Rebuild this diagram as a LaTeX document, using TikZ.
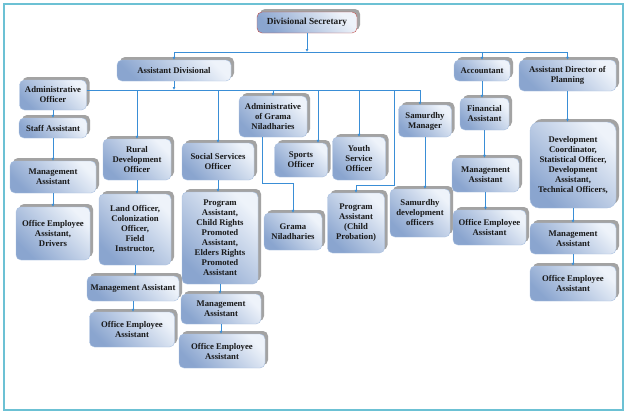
\documentclass[tikz,border=0pt]{standalone}
\usepackage{fontspec}
\setmainfont{Liberation Serif}
\usetikzlibrary{arrows.meta,shadows}
\definecolor{boxdark}{HTML}{8AA5CF}
\definecolor{boxlight}{HTML}{EEF3FA}
\definecolor{boxline}{HTML}{A9C0E0}
\definecolor{linkblue}{HTML}{3A8ED6}
\definecolor{framecyan}{HTML}{6CC1D4}
\definecolor{headred}{HTML}{C0504D}
\definecolor{shadowgrey}{HTML}{8C8C8C}
\tikzset{
unit/.style={draw=boxline, rounded corners=5pt, top color=boxdark, bottom color=boxlight, shading angle=135, align=center, inner sep=2pt, font=\fontsize{8.7}{10}\selectfont\bfseries, text=black!90, drop shadow={shadow xshift=3pt, shadow yshift=3pt, fill=shadowgrey, opacity=0.8}},
link/.style={draw=linkblue, line width=0.8pt},
arrow/.style={link, -{Latex[length=3pt,width=3pt]}}
}
\begin{document}
\begin{tikzpicture}[x=1pt, y=-1pt]
\useasboundingbox (0,0) rectangle (628,415);
\draw[framecyan, line width=1.5pt] (4,4) rectangle (623,410);
\node[unit, draw=headred, minimum width=100pt, minimum height=21pt, font=\fontsize{9.3}{11}\selectfont\bfseries] (ds) at (307,22.5) {Divisional Secretary};
\node[unit, minimum width=114pt, minimum height=21pt] (ad) at (174,70.5) {Assistant Divisional};
\node[unit, minimum width=56pt, minimum height=21pt] (acc) at (482,70.5) {Accountant};
\node[unit, minimum width=97pt, minimum height=31pt] (adp) at (567.5,75.5) {Assistant Director of\\Planning};
\node[unit, minimum width=67pt, minimum height=30pt] (ao) at (53,95) {Administrative\\Officer};
\node[unit, minimum width=68pt, minimum height=20pt] (sa) at (53,128) {Staff Assistant};
\node[unit, minimum width=86pt, minimum height=32pt] (ma1) at (53,177) {Management\\Assistant};
\node[unit, minimum width=74pt, minimum height=53pt] (oe1) at (53,233.5) {Office Employee\\Assistant,\\Drivers};
\node[unit, minimum width=68pt, minimum height=41pt] (rdo) at (137,159.5) {Rural\\Development\\Officer};
\node[unit, minimum width=72pt, minimum height=71pt] (lo) at (135,229.5) {Land Officer,\\Colonization\\Officer,\\Field\\Instructor,};
\node[unit, minimum width=92pt, minimum height=25pt] (ma2) at (133,288.5) {Management Assistant};
\node[unit, minimum width=85pt, minimum height=35pt] (oe2) at (132,329.5) {Office Employee\\Assistant};
\node[unit, minimum width=72pt, minimum height=37pt] (sso) at (218,161.5) {Social Services\\Officer};
\node[unit, minimum width=76pt, minimum height=92pt] (pa) at (220,238) {Program\\Assistant,\\Child Rights\\Promoted\\Assistant,\\Elders Rights\\Promoted\\Assistant};
\node[unit, minimum width=80pt, minimum height=30pt] (ma3) at (221,309) {Management\\Assistant};
\node[unit, minimum width=86pt, minimum height=34pt] (oe3) at (222,351) {Office Employee\\Assistant};
\node[unit, minimum width=68pt, minimum height=41pt] (agn) at (273,116.5) {Administrative\\of Grama\\Niladharies};
\node[unit, minimum width=53pt, minimum height=34pt] (so) at (301,160) {Sports\\Officer};
\node[unit, minimum width=58pt, minimum height=37pt] (gn) at (293,231.5) {Grama\\Niladharies};
\node[unit, minimum width=53pt, minimum height=43pt] (ys) at (359,158.5) {Youth\\Service\\Officer};
\node[unit, minimum width=57pt, minimum height=60pt] (pac) at (356,223) {Program\\Assistant\\(Child\\Probation)};
\node[unit, minimum width=53pt, minimum height=32pt] (sm) at (425,121) {Samurdhy\\Manager};
\node[unit, minimum width=60pt, minimum height=48pt] (sdo) at (420,213) {Samurdhy\\development\\officers};
\node[unit, minimum width=49pt, minimum height=32pt] (fa) at (484.5,114) {Financial\\Assistant};
\node[unit, minimum width=67pt, minimum height=34pt] (ma4) at (485.5,175) {Management\\Assistant};
\node[unit, minimum width=73pt, minimum height=35pt] (oe4) at (489.5,227.5) {Office Employee\\Assistant};
\node[unit, rounded corners=9pt, minimum width=86pt, minimum height=86pt] (dc) at (573,165) {Development\\Coordinator,\\Statistical Officer,\\Development\\Assistant,\\Technical Officers,};
\node[unit, minimum width=86pt, minimum height=31pt] (ma5) at (573,238.5) {Management\\Assistant};
\node[unit, minimum width=86pt, minimum height=35pt] (oe5) at (573,283.5) {Office Employee\\Assistant};
\coordinate (top) at (307,52);
\coordinate (mid) at (174,90);
\coordinate (pbend) at (394,90);
\draw[arrow] (ds) -- (top);
\draw[arrow] (top) -| (ad);
\draw[arrow] (top) -| (acc);
\draw[arrow] (top) -| (adp);
\draw[arrow] (ad) -- (mid);
\draw[link] (ao.east |- mid) -- (mid);
\draw[link] (mid) -- ([xshift=-5pt]sm.north |- mid);
\draw[arrow] (mid) -| (rdo);
\draw[arrow] (mid) -| (sso);
\draw[arrow] (mid) -| (agn);
\draw[arrow] (mid) -| ([xshift=17pt]so.north);
\draw[arrow] (mid) -| (ys);
\draw[arrow] (mid) -| ([xshift=-5pt]sm.north);
\draw[arrow] (pbend) |- ([yshift=7pt]pac.north) -- (pac);
\draw[arrow] ([xshift=-11pt]agn.south) |- ([yshift=29pt]gn.north) -- (gn);
\draw[arrow] (ao) -- (sa);
\draw[arrow] (sa) -- (ma1);
\draw[arrow] (ma1) -- (oe1);
\draw[arrow] (rdo) -- (rdo |- lo.north);
\draw[arrow] (lo) -- (lo |- ma2.north);
\draw[arrow] (ma2) -- (ma2 |- oe2.north);
\draw[arrow] (sso) -- (sso |- pa.north);
\draw[arrow] (pa) -- (pa |- ma3.north);
\draw[arrow] (ma3) -- (ma3 |- oe3.north);
\draw[arrow] (sm) -- (sm |- sdo.north);
\draw[arrow] (acc) -- (acc |- fa.north);
\draw[arrow] (fa) -- (fa |- ma4.north);
\draw[arrow] (ma4) -- (ma4 |- oe4.north);
\draw[arrow] (adp) -- (adp |- dc.north);
\draw[arrow] (dc) -- (dc |- ma5.north);
\draw[arrow] (ma5) -- (oe5);
\end{tikzpicture}
\end{document}
